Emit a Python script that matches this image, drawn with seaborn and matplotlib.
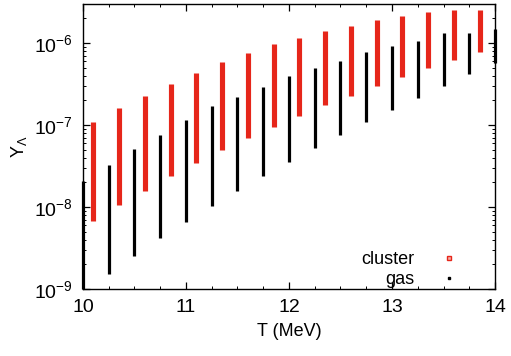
import numpy as np
import pandas as pd
import matplotlib
matplotlib.use("Agg")
import matplotlib.pyplot as plt
import seaborn as sns
from matplotlib.ticker import LogLocator, MultipleLocator, LogFormatterMathtext, NullFormatter
from matplotlib.lines import Line2D

# ---- data ----
cluster_T = [10.1, 10.35, 10.6, 10.85, 11.1, 11.35, 11.6, 11.85,
             12.1, 12.35, 12.6, 12.85, 13.1, 13.35, 13.6, 13.85]
cluster_lo = [6.8e-9, 1.06e-8, 1.58e-8, 2.39e-8, 3.41e-8, 4.9e-8, 6.9e-8, 9.5e-8,
              1.29e-7, 1.74e-7, 2.27e-7, 3.0e-7, 3.88e-7, 4.9e-7, 6.2e-7, 7.7e-7]
cluster_hi = [1.1e-7, 1.6e-7, 2.27e-7, 3.13e-7, 4.3e-7, 5.8e-7, 7.6e-7, 9.7e-7,
              1.17e-6, 1.39e-6, 1.61e-6, 1.9e-6, 2.13e-6, 2.37e-6, 2.5e-6, 2.5e-6]

gas_T = [10.0, 10.25, 10.5, 10.75, 11.0, 11.25, 11.5, 11.75, 12.0,
         12.25, 12.5, 12.75, 13.0, 13.25, 13.5, 13.75, 14.0]
gas_lo = [1.0e-9, 1.52e-9, 2.55e-9, 4.15e-9, 6.6e-9, 1.03e-8, 1.58e-8, 2.4e-8, 3.57e-8,
          5.3e-8, 7.55e-8, 1.09e-7, 1.52e-7, 2.11e-7, 3.0e-7, 4.15e-7, 5.75e-7]
gas_hi = [2.1e-8, 3.25e-8, 5.06e-8, 7.55e-8, 1.15e-7, 1.7e-7, 2.21e-7, 2.88e-7, 4.0e-7,
          5.0e-7, 6.1e-7, 7.7e-7, 9.1e-7, 1.07e-6, 1.31e-6, 1.33e-6, 1.47e-6]

series_labels = ["cluster", "gas"]

# ---- build long-form table ----
rows = []
for t, lo, hi in zip(cluster_T, cluster_lo, cluster_hi):
    rows.append(dict(T=t, Y=lo, phase="cluster", col=f"c{t}"))
    rows.append(dict(T=t, Y=hi, phase="cluster", col=f"c{t}"))
for t, lo, hi in zip(gas_T, gas_lo, gas_hi):
    rows.append(dict(T=t, Y=lo, phase="gas", col=f"g{t}"))
    rows.append(dict(T=t, Y=hi, phase="gas", col=f"g{t}"))
df = pd.DataFrame(rows)

sns.set_style("ticks")
plt.rcParams['font.family'] = ['Liberation Sans', 'DejaVu Sans']
plt.rcParams['mathtext.fontset'] = 'custom'
plt.rcParams['mathtext.rm'] = 'Liberation Sans'
plt.rcParams['mathtext.it'] = 'Liberation Sans'
plt.rcParams['mathtext.default'] = 'regular'
for k in ['text.color', 'axes.labelcolor', 'xtick.color', 'ytick.color', 'axes.edgecolor']:
    plt.rcParams[k] = 'black'

red = "#e6261a"
fig = plt.figure(figsize=(5.11, 3.56), dpi=100)
ax = fig.add_axes([0.1624, 0.1882, 0.9687 - 0.1624, 0.9888 - 0.1882])

cl = df[df.phase == "cluster"]
ga = df[df.phase == "gas"]
sns.lineplot(data=cl, x="T", y="Y", units="col", estimator=None, sort=False,
             color=red, linewidth=3.7, ax=ax, legend=False, solid_capstyle="butt")
sns.lineplot(data=ga, x="T", y="Y", units="col", estimator=None, sort=False,
             color="black", linewidth=2.3, ax=ax, legend=False, solid_capstyle="butt")
for ln in ax.get_lines():
    ln.set_clip_on(False)

ax.set_yscale("log")
ax.set_xlim(10, 14)
ax.set_ylim(1e-9, 3.0e-6)

ax.xaxis.set_major_locator(MultipleLocator(1))
ax.xaxis.set_minor_locator(MultipleLocator(0.25))
ax.yaxis.set_major_locator(LogLocator(base=10))
ax.yaxis.set_minor_locator(LogLocator(base=10, subs=np.arange(2, 10)))
ax.yaxis.set_major_formatter(LogFormatterMathtext())
ax.yaxis.set_minor_formatter(NullFormatter())

ax.tick_params(which="both", direction="in", top=True, right=True, color="black")
ax.tick_params(which="major", length=5, width=0.9, labelsize=14, pad=7)
ax.tick_params(which="minor", length=2.5, width=0.7)
for s in ax.spines.values():
    s.set_linewidth(1.0)
    s.set_color("black")

ax.set_xlabel("T (MeV)", fontsize=13, labelpad=5)
ax.set_ylabel(r"Y$_\Lambda$", fontsize=13, labelpad=4)

handles = [
    Line2D([], [], linestyle="none", marker="s", markersize=3.5,
           markerfacecolor="#f7b0a8", markeredgecolor=red, markeredgewidth=1.0),
    Line2D([], [], linestyle="none", marker="s", markersize=2.0,
           markerfacecolor="black", markeredgecolor="black"),
]
ax.legend(handles, series_labels, loc="lower right", markerfirst=False, frameon=False,
          fontsize=13, handlelength=1.2, handletextpad=1.3, labelspacing=0.15,
          borderaxespad=0.0, bbox_to_anchor=(0.932, -0.022))

fig.savefig("out.png", dpi=100)
